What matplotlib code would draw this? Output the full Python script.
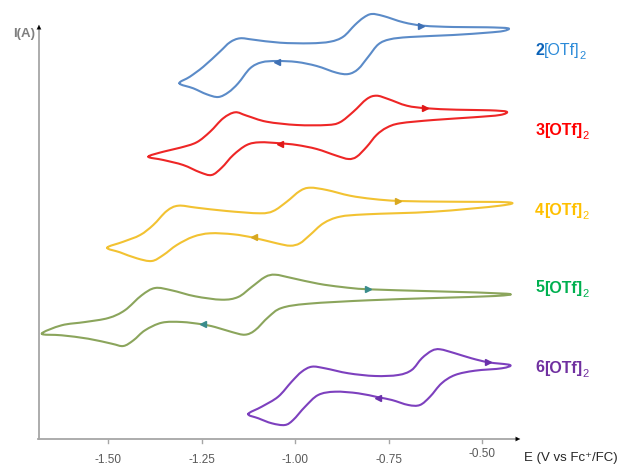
import matplotlib
matplotlib.use('Agg')
import matplotlib.pyplot as plt
from matplotlib.path import Path
from matplotlib.patches import PathPatch

plt.rcParams['font.family'] = ['Liberation Sans', 'DejaVu Sans']

# ---------------- data (E in V vs Fc+/Fc, I in arbitrary stacked units) ----------------
compounds = ['2', '3', '4', '5', '6']

e_2 = [-1.309, -1.281, -1.245, -1.201, -1.174, -1.147, -1.111, -1.040, -0.960, -0.906,
       -0.871, -0.840, -0.817, -0.795, -0.764, -0.710, -0.657, -0.577, -0.487, -0.430,
       -0.443, -0.487, -0.577, -0.693, -0.746, -0.777, -0.804, -0.831, -0.857, -0.889,
       -0.942, -0.995, -1.049, -1.089, -1.120, -1.152, -1.178, -1.205, -1.236, -1.272, -1.309]
i_2 = [355.7, 362.3, 372.3, 387.3, 396.7, 400.7, 399.3, 396.3, 395.7, 397.3,
       402.3, 414.0, 421.3, 425.0, 423.0, 416.7, 413.3, 412.0, 411.7, 410.7,
       408.0, 406.3, 404.0, 402.0, 399.7, 394.7, 382.3, 370.0, 365.0, 366.3,
       373.0, 377.0, 378.0, 376.7, 370.7, 355.7, 346.7, 342.0, 344.7, 350.7, 355.7]

e_3 = [-1.392, -1.352, -1.307, -1.263, -1.227, -1.192, -1.160, -1.129, -1.076, -0.995,
       -0.915, -0.880, -0.844, -0.808, -0.782, -0.751, -0.701, -0.648, -0.568, -0.479,
       -0.434, -0.452, -0.523, -0.630, -0.719, -0.755, -0.782, -0.808, -0.835, -0.857,
       -0.889, -0.942, -0.995, -1.040, -1.094, -1.129, -1.165, -1.196, -1.223, -1.254,
       -1.299, -1.352, -1.392]
i_3 = [282.3, 287.3, 291.3, 296.7, 307.3, 320.7, 326.7, 323.3, 317.3, 314.0,
       314.0, 316.7, 327.3, 340.0, 343.3, 340.0, 333.3, 330.7, 329.3, 328.7,
       327.3, 324.0, 321.7, 319.0, 315.7, 311.3, 304.0, 292.3, 282.3, 280.0,
       283.3, 290.0, 294.0, 295.7, 296.7, 294.0, 284.0, 271.3, 264.0, 266.7,
       274.0, 279.0, 282.3]

e_4 = [-1.502, -1.459, -1.414, -1.379, -1.343, -1.312, -1.263, -1.183, -1.094, -1.058,
       -1.022, -0.987, -0.960, -0.915, -0.853, -0.791, -0.719, -0.586, -0.430,
       -0.452, -0.630, -0.808, -0.880, -0.924, -0.960, -0.987, -1.013, -1.049, -1.111,
       -1.165, -1.227, -1.272, -1.316, -1.352, -1.383, -1.423, -1.468, -1.502]
i_4 = [191.3, 197.3, 204.0, 214.0, 228.0, 233.3, 231.3, 228.0, 225.7, 228.0,
       237.3, 248.0, 251.3, 249.0, 243.3, 240.0, 238.0, 237.3, 236.7,
       233.3, 227.3, 224.7, 222.3, 215.7, 204.0, 195.7, 193.3, 195.7, 201.3,
       204.7, 205.7, 202.3, 194.0, 184.0, 178.0, 180.7, 186.7, 191.3]

e_5 = [-1.677, -1.624, -1.561, -1.499, -1.455, -1.410, -1.374, -1.330, -1.267, -1.196,
       -1.152, -1.116, -1.080, -1.053, -1.009, -0.938, -0.875, -0.804, -0.626, -0.434,
       -0.465, -0.626, -0.804, -0.964, -1.036, -1.071, -1.107, -1.134, -1.169, -1.214,
       -1.249, -1.303, -1.356, -1.401, -1.432, -1.459, -1.490, -1.553, -1.624, -1.677]
i_5 = [105.3, 113.7, 117.0, 121.0, 128.7, 143.7, 151.0, 148.7, 142.7, 139.3,
       142.0, 152.0, 162.0, 164.3, 161.0, 155.3, 152.0, 149.7, 147.7, 145.3,
       143.0, 141.0, 138.7, 135.3, 131.0, 122.0, 108.7, 104.3, 107.0, 112.0,
       114.7, 117.0, 116.3, 108.7, 98.7, 93.0, 95.3, 100.3, 103.7, 105.3]

e_6 = [-1.125, -1.089, -1.045, -1.009, -0.982, -0.955, -0.920, -0.857, -0.786, -0.724,
       -0.688, -0.661, -0.634, -0.612, -0.572, -0.528, -0.483, -0.425,
       -0.447, -0.519, -0.572, -0.608, -0.639, -0.666, -0.697, -0.741, -0.777, -0.831,
       -0.893, -0.938, -0.973, -1.005, -1.027, -1.062, -1.098, -1.125]
i_6 = [25.0, 32.3, 42.3, 57.3, 67.3, 72.3, 70.7, 65.7, 63.0, 64.0,
       69.0, 80.7, 88.3, 89.7, 85.7, 80.7, 76.7, 74.0,
       70.7, 68.3, 64.0, 55.7, 42.3, 34.0, 34.0, 39.0, 41.7, 45.7,
       47.3, 44.0, 32.3, 19.0, 14.0, 15.7, 20.7, 25.0]

# sweep-direction arrow positions on each voltammogram
arrow_fwd_e = [-0.662, -0.652, -0.724, -0.804, -0.483]
arrow_fwd_i = [413.3, 330.7, 238.0, 149.7, 76.7]
arrow_rev_e = [-1.049, -1.040, -1.110, -1.245, -0.777]
arrow_rev_i = [377.3, 295.0, 201.7, 114.7, 40.7]

label_i = [389, 309, 229, 151, 71]

xtick_values = [-1.50, -1.25, -1.00, -0.75, -0.50]
xtick_labels = ['-1.50', '-1.25', '-1.00', '-0.75', '-0.50']

# ---------------- styling ----------------
line_colors = ['#5b8bc8', '#ee2626', '#f2c232', '#8ba55c', '#7d40be']
arrow_colors = ['#3f70b4', '#e01818', '#d8a820', '#3a8c8c', '#6a30aa']
num_colors = ['#0a62b8', '#ff0000', '#ffc000', '#00b050', '#7030a0']
rest_colors = ['#2a8ad8', '#ff0000', '#ffc000', '#00b050', '#7030a0']
rest_weights = ['normal', 'bold', 'bold', 'bold', 'bold']

E_data = [e_2, e_3, e_4, e_5, e_6]
I_data = [i_2, i_3, i_4, i_5, i_6]


def smooth_loop_path(xs, ys):
    """Closed Bezier path passing through every measured point (Catmull-Rom tangents)."""
    pts = list(zip(xs[:-1], ys[:-1]))  # last point repeats the first
    n = len(pts)
    verts = [pts[0]]
    codes = [Path.MOVETO]
    for j in range(n):
        p0 = pts[(j - 1) % n]
        p1 = pts[j]
        p2 = pts[(j + 1) % n]
        p3 = pts[(j + 2) % n]
        c1 = (p1[0] + (p2[0] - p0[0]) / 6.0, p1[1] + (p2[1] - p0[1]) / 6.0)
        c2 = (p2[0] - (p3[0] - p1[0]) / 6.0, p2[1] - (p3[1] - p1[1]) / 6.0)
        verts += [c1, c2, p2]
        codes += [Path.CURVE4] * 3
    return Path(verts, codes)


W, H = 621, 466
fig = plt.figure(figsize=(W / 100, H / 100), dpi=100)
fig.patch.set_facecolor('white')
x0, x1, yb, yt = 38, 523, 439, 22
ax = fig.add_axes([x0 / W, (H - yb) / H, (x1 - x0) / W, (yb - yt) / H])
ax.set_xlim(-1.5 + (x0 - 108) / 374, -1.5 + (x1 - 108) / 374)
ax.set_ylim(0, yb - yt)
for s in ax.spines.values():
    s.set_visible(False)
ax.set_xticks([])
ax.set_yticks([])
ax.patch.set_alpha(0)

for k in range(5):
    patch = PathPatch(smooth_loop_path(E_data[k], I_data[k]), facecolor='none',
                      edgecolor=line_colors[k], lw=1.5, joinstyle='round',
                      capstyle='round', clip_on=False)
    ax.add_patch(patch)
    ax.plot(arrow_fwd_e[k], arrow_fwd_i[k], marker='>', ms=5, color=arrow_colors[k],
            mec=arrow_colors[k], clip_on=False)
    ax.plot(arrow_rev_e[k], arrow_rev_i[k], marker='<', ms=5, color=arrow_colors[k],
            mec=arrow_colors[k], clip_on=False)
    t_num = ax.text(-0.358, label_i[k], compounds[k], color=num_colors[k], fontsize=11.5,
                    fontweight='heavy', ha='left', va='center', clip_on=False)
    t_rest = ax.annotate('[OTf]', xy=(1, 0.5), xycoords=t_num, color=rest_colors[k],
                         fontsize=11.5, fontweight=rest_weights[k], ha='left', va='center')
    ax.annotate('2', xy=(1.0, 0.12), xycoords=t_rest, color=rest_colors[k],
                fontsize=8, ha='left', va='center')

# axes lines with arrow heads
axis_gray = '#a6a6a6'
ax.plot([0, 0.985], [0, 0], color=axis_gray, lw=1.3, transform=ax.transAxes, clip_on=False)
ax.annotate('', xy=(1.0, 0), xytext=(0.982, 0), xycoords='axes fraction',
            arrowprops=dict(arrowstyle='-|>', color='black', lw=0.1, mutation_scale=8))
ax.plot([0.002, 0.002], [0, 0.985], color=axis_gray, lw=1.3, transform=ax.transAxes, clip_on=False)
ax.annotate('', xy=(0.002, 1.0), xytext=(0.002, 0.982), xycoords='axes fraction',
            arrowprops=dict(arrowstyle='-|>', color='black', lw=0.1, mutation_scale=8))

# x ticks and labels
xt = ax.get_xaxis_transform()
for v, lab in zip(xtick_values, xtick_labels):
    ax.plot([v, v], [-0.003, -0.010], color=axis_gray, lw=1.0, transform=xt, clip_on=False)
    dy = -0.037 if lab == '-0.50' else -0.050
    ax.text(v, dy, lab, transform=xt, ha='center', va='center', fontsize=8.5,
            color='#595959')

ax.text(1.002, -0.046, 'E (V vs Fc\u207a/FC)', transform=ax.transAxes, ha='left',
        va='center', fontsize=9.5, color='#262626')
ax.text(-0.005, 0.972, 'I(A)', transform=ax.transAxes, ha='right', va='center',
        fontsize=9.5, fontweight='bold', color='#7f7f7f')

fig.savefig('out.png', dpi=100, facecolor='white')
